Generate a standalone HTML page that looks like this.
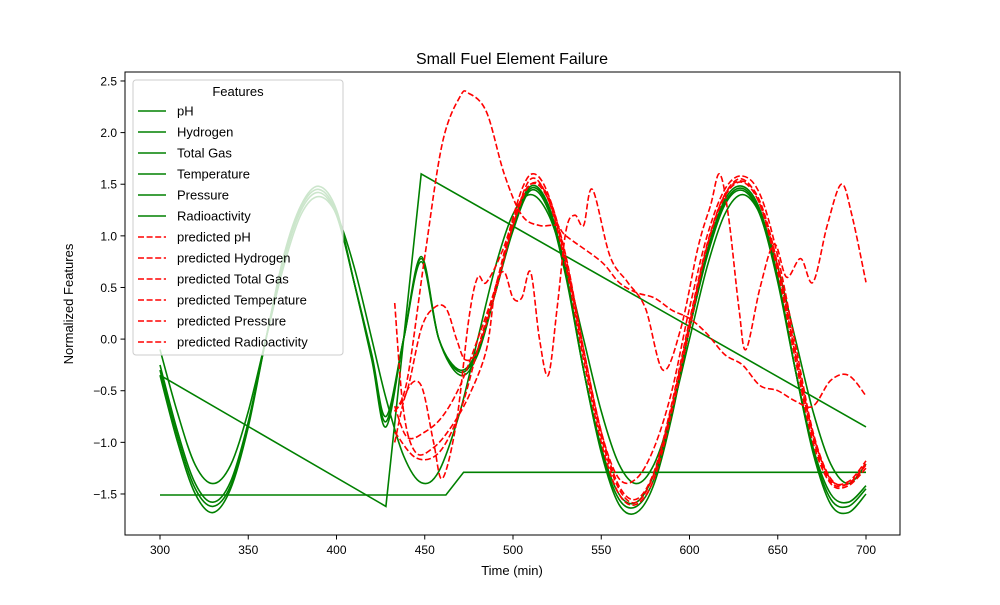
<!DOCTYPE html>
<html><head><meta charset="utf-8"><style>
body{margin:0;background:#fff}
svg{font-family:"Liberation Sans","DejaVu Sans",sans-serif}
</style></head><body>
<svg id="c" width="1000" height="600" xmlns="http://www.w3.org/2000/svg">
<rect width="1000" height="600" fill="#fff"/>
<text x="512" y="64" font-size="16" text-anchor="middle">Small Fuel Element Failure</text>
<g id="plot"></g>
<rect x="125" y="72" width="775" height="463" fill="none" stroke="#000" stroke-width="1"/>
<g id="axes"></g>
<text x="512" y="575" font-size="13" text-anchor="middle">Time (min)</text>
<text x="73" y="304" font-size="13" text-anchor="middle" transform="rotate(-90 73 304)">Normalized Features</text>
<g id="legend"></g>
</svg>
<script>
const xTicks=[300,350,400,450,500,550,600,650,700];
const yTicks=[-1.5,-1.0,-0.5,0.0,0.5,1.0,1.5,2.0,2.5];
const legendLabels=["pH","Hydrogen","Total Gas","Temperature","Pressure","Radioactivity","predicted pH","predicted Hydrogen","predicted Total Gas","predicted Temperature","predicted Pressure","predicted Radioactivity"];
const gT=[300,310,320,330,340,350,360,370,380,390,400,410,420,428,438,448,458,470,480,490,500,510,520,530,540,550,560,570,580,590,600,610,620,630,640,650,660,670,680,690,700];
const gA=[-0.35,-1.0,-1.5,-1.68,-1.45,-0.85,0.0,0.8,1.3,1.48,1.25,0.55,-0.2,-0.85,0.0,0.8,0.0,-0.35,-0.15,0.45,1.1,1.48,1.3,0.65,-0.3,-1.1,-1.6,-1.68,-1.4,-0.75,0.1,0.85,1.35,1.48,1.25,0.6,-0.3,-1.1,-1.6,-1.68,-1.5];
const gB=[-0.25,-0.9,-1.4,-1.58,-1.38,-0.8,0.0,0.75,1.25,1.42,1.2,0.55,-0.15,-0.75,0.0,0.75,0.0,-0.3,-0.1,0.45,1.05,1.44,1.25,0.6,-0.3,-1.05,-1.5,-1.58,-1.3,-0.7,0.1,0.8,1.3,1.44,1.2,0.55,-0.3,-1.05,-1.5,-1.58,-1.42];
const gD=[-0.3,-0.95,-1.45,-1.62,-1.42,-0.82,0.0,0.78,1.28,1.45,1.22,0.55,-0.18,-0.8,0.0,0.78,0.0,-0.32,-0.12,0.45,1.08,1.46,1.28,0.62,-0.3,-1.08,-1.55,-1.62,-1.35,-0.72,0.1,0.82,1.32,1.46,1.22,0.58,-0.3,-1.08,-1.55,-1.62,-1.45];
const gC=[-0.1,-0.72,-1.22,-1.4,-1.22,-0.7,0.0,0.7,1.21,1.38,1.21,0.7,0.0,-0.57,-1.13,-1.39,-1.28,-0.7,0.0,0.7,1.21,1.4,1.21,0.7,0.0,-0.7,-1.21,-1.4,-1.21,-0.7,0.0,0.7,1.21,1.4,1.21,0.7,0.0,-0.7,-1.21,-1.4,-1.21];
const diagT=[300,428,448,700];
const diagV=[-0.35,-1.62,1.6,-0.85];
const flatT=[300,462,472,700];
const flatV=[-1.51,-1.51,-1.29,-1.29];
const r1T=[433,440,450,460,470,475,485,495,505,515,525,530,550,560,570,580,590,600,610,620,630,640,650,660,670,680,690,700];
const r1V=[-0.7,-0.4,0.8,1.9,2.35,2.38,2.2,1.6,1.2,1.1,1.1,1.0,0.75,0.55,0.45,0.4,0.28,0.2,0.05,-0.15,-0.25,-0.45,-0.5,-0.6,-0.65,-0.4,-0.35,-0.55];
const r2T=[433,438,445,455,465,475,485,490,495,500,505,510,515,520,525,530,535,540,545,555,565,575,585,595,605,612,617,622,628,632,640,648,655,663,670,678,686,692,700];
const r2V=[0.35,-0.7,-1.1,-1.05,-0.85,-0.55,-0.1,0.5,0.65,0.4,0.4,0.65,0.0,-0.35,0.3,1.05,1.2,1.1,1.45,0.8,0.55,0.3,-0.3,0.1,0.9,1.3,1.6,1.2,0.3,-0.1,0.5,0.92,0.6,0.78,0.55,1.1,1.5,1.2,0.55];
const r3T=[433,440,448,455,462,468,473,480,490,500,510,520,530,540,550,560,570,580,590,600,610,620,630,640,650,660,670,680,690,700];
const r3V=[-0.7,-0.5,0.1,0.3,0.3,0.0,-0.2,-0.1,0.45,1.1,1.55,1.35,0.7,-0.2,-1.0,-1.5,-1.6,-1.35,-0.7,0.1,0.9,1.4,1.55,1.3,0.65,-0.2,-1.0,-1.4,-1.42,-1.25];
const r4T=[433,440,448,455,460,468,475,480,485,495,505,512,520,530,540,550,560,570,580,590,600,610,620,630,640,650,660,670,680,690,700];
const r4V=[-1.0,-0.5,-0.45,-1.0,-1.35,-0.8,0.2,0.6,0.55,0.9,1.45,1.6,1.4,0.8,-0.1,-0.9,-1.35,-1.35,-1.05,-0.5,0.3,1.0,1.45,1.58,1.4,0.8,-0.05,-0.9,-1.35,-1.4,-1.2];
const r5T=[433,445,458,470,480,490,500,510,520,530,540,550,560,570,580,590,600,610,620,630,640,650,660,670,680,690,700];
const r5V=[-0.9,-1.15,-1.1,-0.7,-0.1,0.5,1.15,1.5,1.35,0.75,-0.15,-0.95,-1.45,-1.58,-1.3,-0.65,0.15,0.9,1.38,1.52,1.3,0.7,-0.15,-0.95,-1.38,-1.4,-1.22];
const r6T=[433,440,450,460,470,480,490,500,510,520,530,540,550,560,570,580,590,600,610,620,630,640,650,660,670,680,690,700];
const r6V=[-0.65,-0.95,-0.9,-0.75,-0.45,0.0,0.5,1.1,1.5,1.38,0.78,-0.1,-0.9,-1.42,-1.55,-1.28,-0.62,0.18,0.92,1.4,1.53,1.33,0.72,-0.12,-0.92,-1.36,-1.38,-1.18];

const X=t=>160+(t-300)*706/400;
const Y=v=>339.1-v*103.25;
const NS="http://www.w3.org/2000/svg";
function smooth(T,V){
  const p=T.map((t,i)=>[X(t),Y(V[i])]);
  let d="M"+p[0][0].toFixed(1)+","+p[0][1].toFixed(1);
  for(let i=0;i<p.length-1;i++){
    const p0=p[Math.max(0,i-1)],p1=p[i],p2=p[i+1],p3=p[Math.min(p.length-1,i+2)];
    const c1=[p1[0]+(p2[0]-p0[0])/6,p1[1]+(p2[1]-p0[1])/6];
    const c2=[p2[0]-(p3[0]-p1[0])/6,p2[1]-(p3[1]-p1[1])/6];
    d+="C"+c1.map(n=>n.toFixed(1))+" "+c2.map(n=>n.toFixed(1))+" "+p2.map(n=>n.toFixed(1));
  }
  return d;
}
function poly(T,V){return "M"+T.map((t,i)=>X(t).toFixed(1)+","+Y(V[i]).toFixed(1)).join("L");}
const plot=document.getElementById('plot');
function addPath(d,color,dash,name){
  const el=document.createElementNS(NS,'path');
  el.setAttribute('d',d);el.setAttribute('fill','none');el.setAttribute('stroke',color);
  el.setAttribute('stroke-width','1.6');if(dash)el.setAttribute('stroke-dasharray','6,2.6');
  
  
  plot.appendChild(el);
}
addPath(smooth(gT,gA),'#008000',false,'series-ph');
addPath(smooth(gT,gB),'#008000',false,'series-hydrogen');
addPath(poly(flatT,flatV),'#008000',false,'series-total-gas');
addPath(smooth(gT,gD),'#008000',false,'series-temperature');
addPath(poly(diagT,diagV),'#008000',false,'series-pressure');
addPath(smooth(gT,gC),'#008000',false,'series-radioactivity');
addPath(smooth(r1T,r1V),'#ff0000',true,'series-predicted-ph');
addPath(smooth(r2T,r2V),'#ff0000',true,'series-predicted-hydrogen');
addPath(smooth(r3T,r3V),'#ff0000',true,'series-predicted-total-gas');
addPath(smooth(r4T,r4V),'#ff0000',true,'series-predicted-temperature');
addPath(smooth(r5T,r5V),'#ff0000',true,'series-predicted-pressure');
addPath(smooth(r6T,r6V),'#ff0000',true,'series-predicted-radioactivity');

const axes=document.getElementById('axes');
xTicks.forEach(t=>{
  const l=document.createElementNS(NS,'line');
  l.setAttribute('x1',X(t));l.setAttribute('x2',X(t));l.setAttribute('y1',535);l.setAttribute('y2',539.5);l.setAttribute('stroke','#000');
  
  
  axes.appendChild(l);
  const tx=document.createElementNS(NS,'text');
  tx.setAttribute('x',X(t));tx.setAttribute('y',554);tx.setAttribute('font-size','12');tx.setAttribute('text-anchor','middle');
  tx.textContent=t;
  
  
  axes.appendChild(tx);
});
yTicks.forEach(v=>{
  const l=document.createElementNS(NS,'line');
  l.setAttribute('x1',120.5);l.setAttribute('x2',125);l.setAttribute('y1',Y(v));l.setAttribute('y2',Y(v));l.setAttribute('stroke','#000');
  
  
  axes.appendChild(l);
  const tx=document.createElementNS(NS,'text');
  tx.setAttribute('x',117);tx.setAttribute('y',Y(v)+4.5);tx.setAttribute('font-size','12');tx.setAttribute('text-anchor','end');
  tx.textContent=(v<0?"\u2212":"")+Math.abs(v).toFixed(1);
  
  
  axes.appendChild(tx);
});

const lg=document.getElementById('legend');
const box=document.createElementNS(NS,'rect');
box.setAttribute('x',133);box.setAttribute('y',80);box.setAttribute('width',210);box.setAttribute('height',275);box.setAttribute('rx',3);
box.setAttribute('fill','#fff');box.setAttribute('fill-opacity','0.8');box.setAttribute('stroke','#ccc');


lg.appendChild(box);
const ttl=document.createElementNS(NS,'text');
ttl.setAttribute('x',238);ttl.setAttribute('y',96);ttl.setAttribute('font-size','13');ttl.setAttribute('text-anchor','middle');ttl.textContent='Features';


lg.appendChild(ttl);
legendLabels.forEach((s,i)=>{
  const y=111+i*21;
  const l=document.createElementNS(NS,'line');
  l.setAttribute('x1',138);l.setAttribute('x2',166);l.setAttribute('y1',y);l.setAttribute('y2',y);
  l.setAttribute('stroke',i<6?'#008000':'#ff0000');l.setAttribute('stroke-width','1.6');
  if(i>=6)l.setAttribute('stroke-dasharray','6,2.6');
  
  
  lg.appendChild(l);
  const tx=document.createElementNS(NS,'text');
  tx.setAttribute('x',177);tx.setAttribute('y',y+4.5);tx.setAttribute('font-size','13');tx.textContent=s;
  
  
  lg.appendChild(tx);
});
</script>
</body></html>
